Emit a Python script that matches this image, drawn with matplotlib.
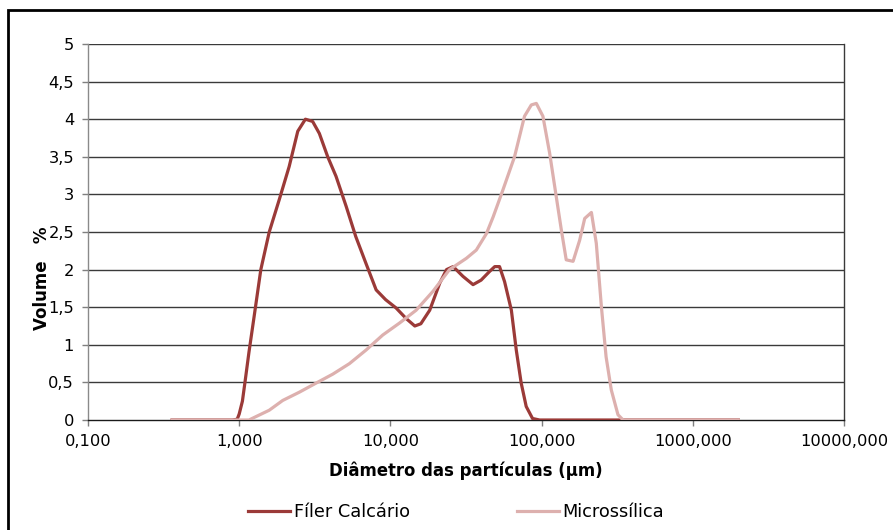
import matplotlib
matplotlib.use("Agg")
import matplotlib.pyplot as plt
from matplotlib.patches import Rectangle
from matplotlib.ticker import FixedLocator, NullLocator

# Particle size distribution (volume %) versus particle diameter (µm)
diam_filer = [0.36, 0.50, 0.70, 0.90, 0.97, 1.00, 1.05, 1.10, 1.16, 1.26, 1.39, 1.58,
              1.84, 2.14, 2.44, 2.74, 3.06, 3.39, 3.85, 4.37, 5.10, 5.90, 6.90,
              8.05, 9.30, 10.9, 12.7, 14.5, 15.9, 18.2, 21.2, 23.5, 26.0, 30.2,
              35.2, 39.8, 45.0, 49.0, 52.7, 56.9, 63.1, 68.0, 73.3, 79.1, 87.1,
              97.0, 150.0, 330.0, 800.0, 2000.0]
vol_filer = [0.0, 0.0, 0.0, 0.0, 0.01, 0.08, 0.25, 0.55, 0.90, 1.40, 2.00, 2.50,
             2.93, 3.37, 3.84, 4.00, 3.97, 3.81, 3.50, 3.24, 2.84, 2.44, 2.08,
             1.73, 1.60, 1.49, 1.35, 1.25, 1.28, 1.46, 1.82, 2.00, 2.04, 1.91,
             1.80, 1.86, 1.97, 2.04, 2.04, 1.84, 1.46, 0.93, 0.49, 0.18, 0.02,
             0.0, 0.0, 0.0, 0.0, 0.0]

diam_micro = [0.36, 0.60, 1.00, 1.16, 1.58, 1.94, 2.50, 3.22, 4.16, 5.36, 6.90,
              8.90, 11.5, 14.8, 19.1, 24.6, 31.8, 37.0, 43.2, 47.8, 55.5, 66.2,
              77.1, 85.5, 92.3, 102.0, 113.0, 125.0, 135.0, 145.5, 161.5, 178.5,
              192.8, 213.5, 230.0, 248.5, 267.0, 289.0, 320.0, 346.0, 600.0,
              1000.0, 2000.0]
vol_micro = [0.0, 0.0, 0.0, 0.0, 0.13, 0.26, 0.37, 0.49, 0.61, 0.75, 0.93,
             1.13, 1.29, 1.46, 1.71, 2.00, 2.15, 2.26, 2.48, 2.70, 3.06, 3.50,
             4.04, 4.19, 4.21, 4.04, 3.55, 2.97, 2.53, 2.13, 2.11, 2.39,
             2.68, 2.76, 2.35, 1.51, 0.84, 0.40, 0.07, 0.0, 0.0,
             0.0, 0.0]

x_ticks = [0.1, 1, 10, 100, 1000, 10000]
x_tick_labels = ["0,100", "1,000", "10,000", "100,000", "1000,000", "10000,000"]
y_ticks = [0, 0.5, 1, 1.5, 2, 2.5, 3, 3.5, 4, 4.5, 5]
y_tick_labels = ["0", "0,5", "1", "1,5", "2", "2,5", "3", "3,5", "4", "4,5", "5"]

plt.rcParams["font.family"] = ["DejaVu Sans"]

fig = plt.figure(figsize=(8.93, 5.30), dpi=100)
ax = fig.add_axes([88 / 893, 1 - 420 / 530, (844 - 88) / 893, (420 - 44) / 530])

# outer chart border (runs off the right and bottom edges)
fig.patches.append(Rectangle((8 / 893, -0.05), 1.2, (530 - 10) / 530 + 0.05,
                             transform=fig.transFigure, fill=False,
                             edgecolor="black", linewidth=2.0, zorder=0))

ax.set_xscale("log")
ax.set_xlim(0.1, 10000)
ax.set_ylim(0, 5)

ax.xaxis.set_major_locator(FixedLocator(x_ticks))
ax.xaxis.set_minor_locator(NullLocator())
ax.set_xticklabels(x_tick_labels)
ax.set_yticks(y_ticks)
ax.set_yticklabels(y_tick_labels)

ax.tick_params(axis="both", labelsize=11.7, color="#7f7f7f", length=4,
               width=1, direction="out")
ax.tick_params(axis="y", pad=6)
ax.tick_params(axis="x", pad=6)

for y in y_ticks[1:]:
    ax.axhline(y, color="#3a3a3a", linewidth=1.0, zorder=1)

ax.spines["top"].set_visible(False)
ax.spines["right"].set_color("#3a3a3a")
ax.spines["right"].set_linewidth(1.0)
ax.spines["left"].set_color("#8a8a8a")
ax.spines["left"].set_linewidth(1.0)
ax.spines["bottom"].set_color("#1a1a1a")
ax.spines["bottom"].set_linewidth(1.0)

ax.plot(diam_filer, vol_filer, color="#9b3a38", linewidth=2.3,
        label="Fíler Calcário", zorder=3, solid_joinstyle="round")
ax.plot(diam_micro, vol_micro, color="#ddb0ae", linewidth=2.3,
        label="Microssílica", zorder=4, solid_joinstyle="round")

ax.set_xlabel("Diâmetro das partículas (µm)", fontsize=11.9, fontweight="bold",
              labelpad=9)
fig.text(42 / 893, 1 - 278 / 530, "Volume   %", rotation=90, fontsize=12,
         fontweight="bold", ha="center", va="center")

fig.legend(loc="center", bbox_to_anchor=(456 / 893, 1 - 512 / 530), ncol=2,
           frameon=False, fontsize=12.8, handlelength=2.4, handletextpad=0.2,
           columnspacing=6.0)

fig.savefig("out.png", dpi=100)
